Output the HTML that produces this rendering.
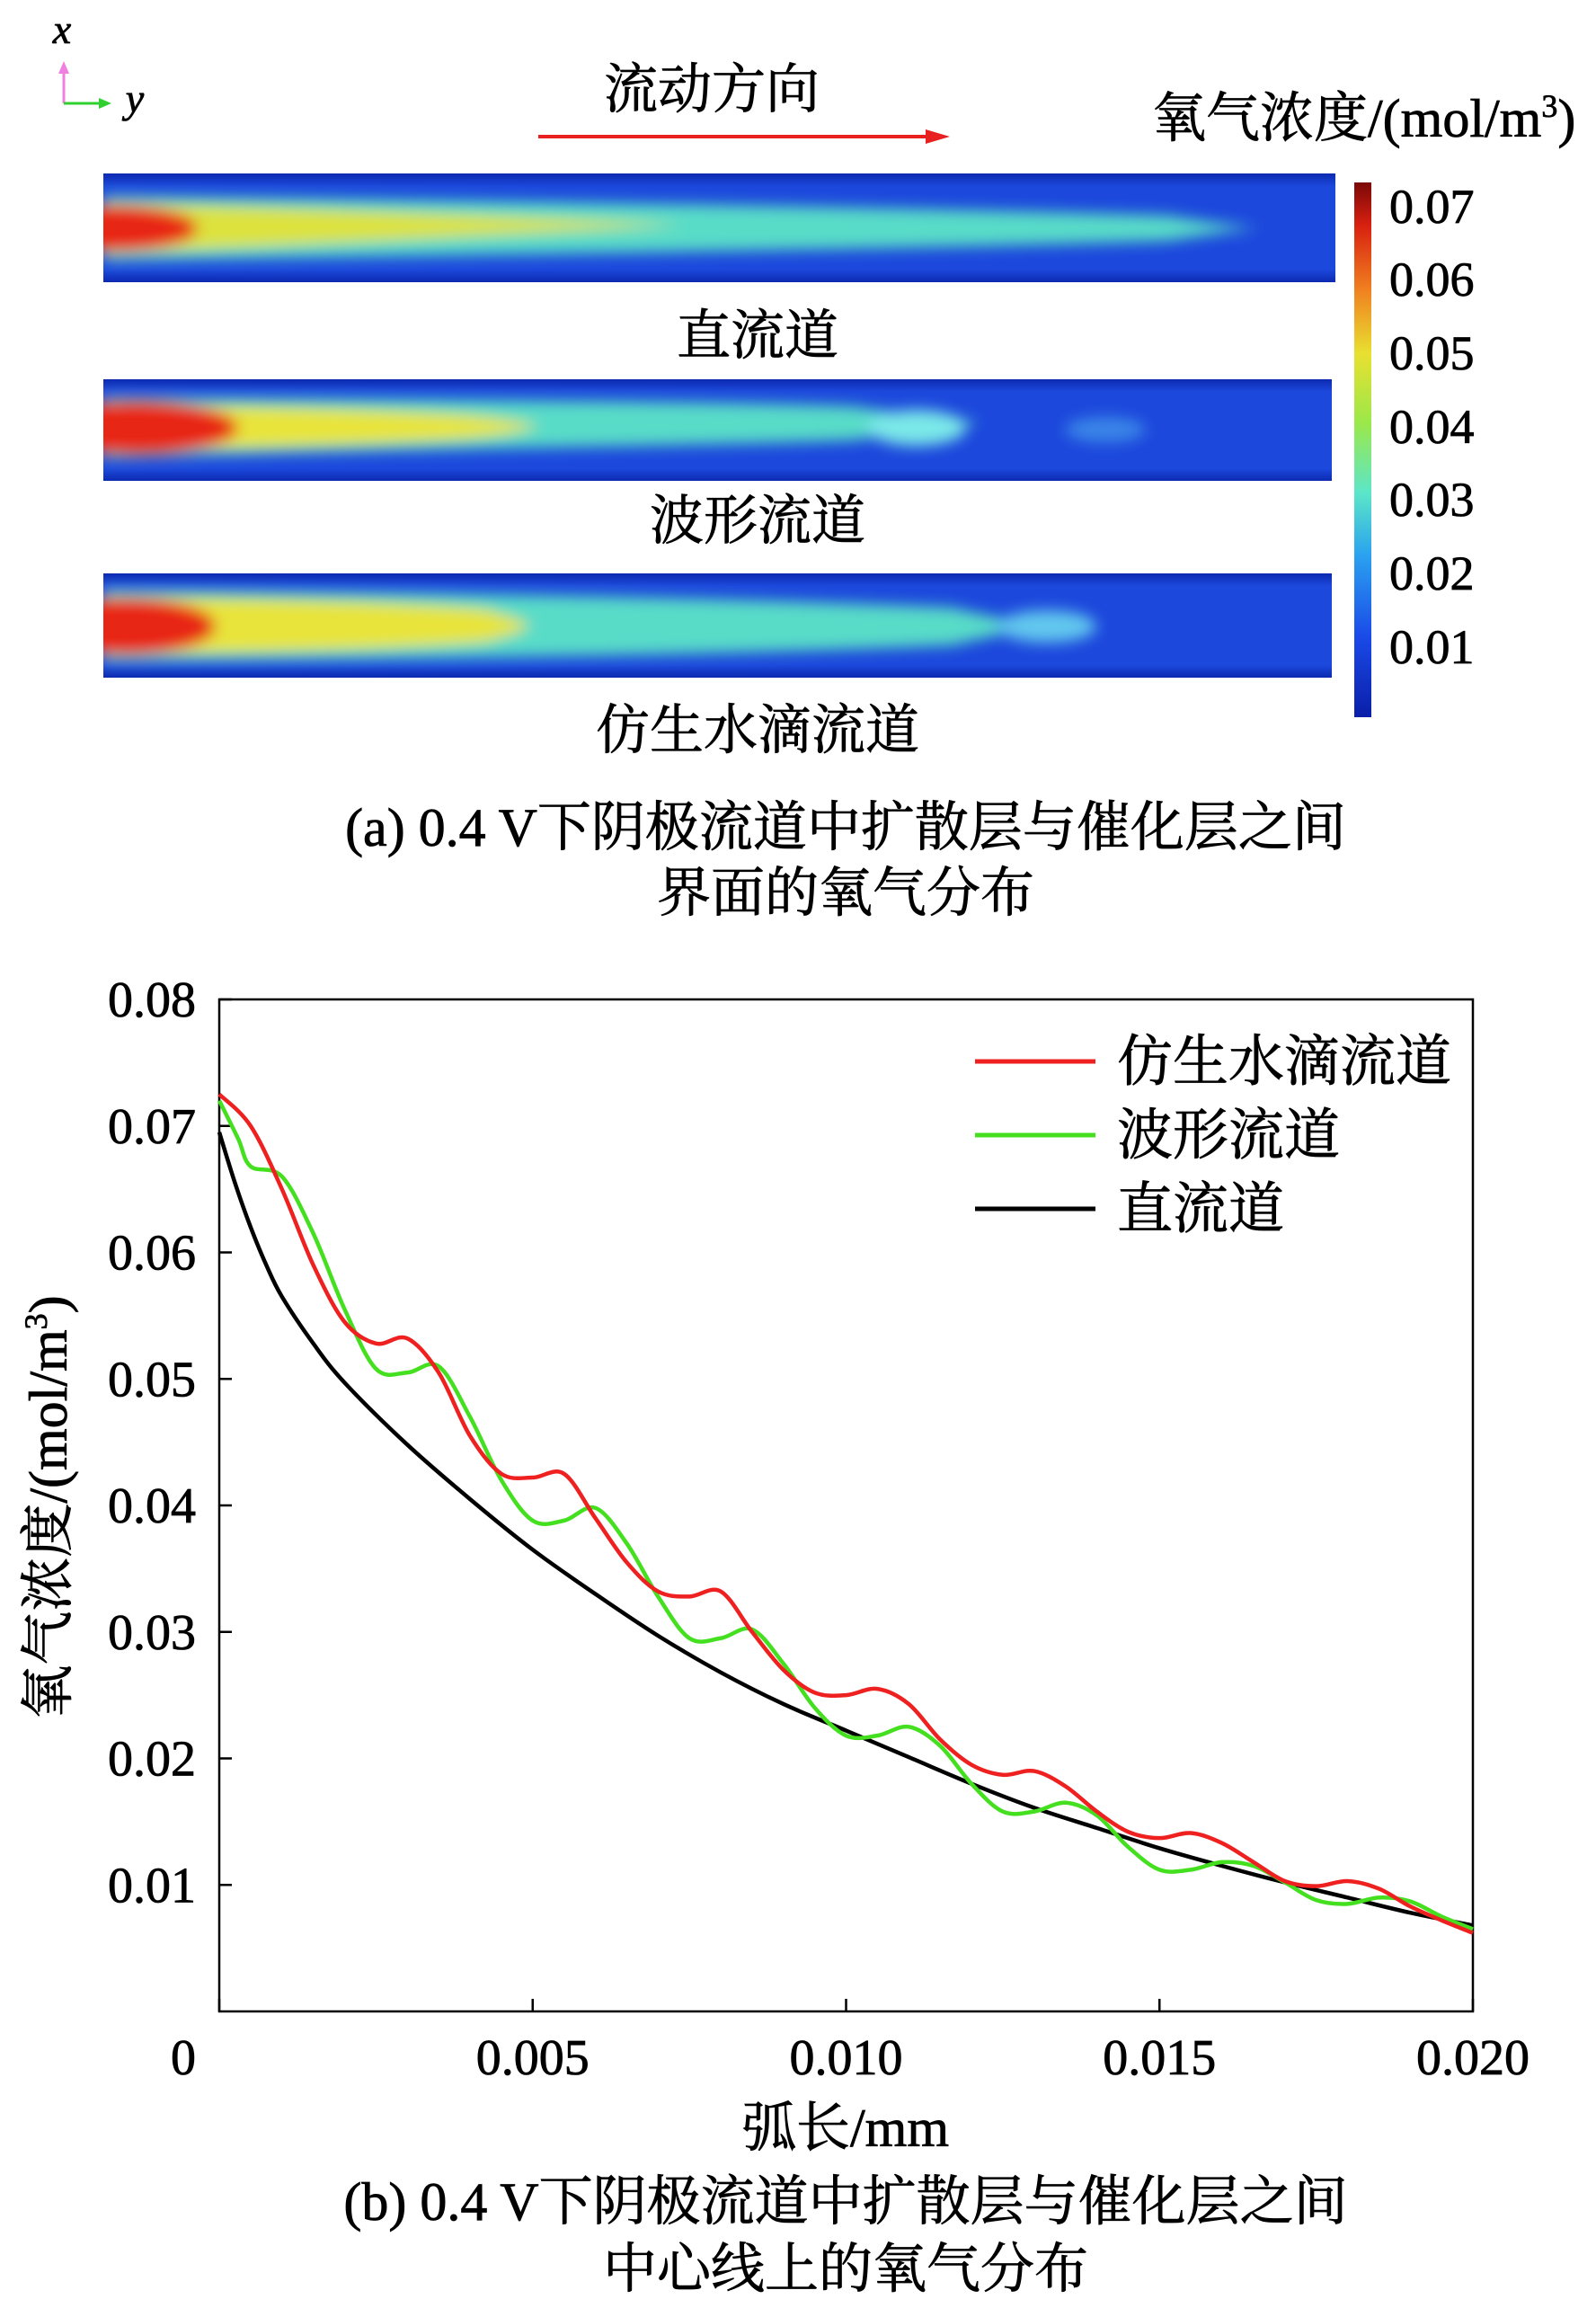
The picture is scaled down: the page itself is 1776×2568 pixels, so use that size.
<!DOCTYPE html>
<html><head><meta charset="utf-8"><style>
html,body{margin:0;padding:0;background:#fff;}
body{width:1776px;height:2568px;overflow:hidden;position:relative;font-family:"Liberation Serif","Noto Serif CJK SC",serif;}
svg{position:absolute;left:0;top:0;}
text{stroke:#000;stroke-width:0.8;}
</style></head><body>
<svg width="1776" height="2568" viewBox="0 0 1776 2568">
<defs>
<filter id="blur" x="-10%" y="-50%" width="120%" height="200%"><feGaussianBlur stdDeviation="8"/></filter>
<linearGradient id="cbar" x1="0" y1="1" x2="0" y2="0">
<stop offset="0" stop-color="#0a1ea8"/><stop offset="0.15" stop-color="#1a4ae8"/><stop offset="0.3" stop-color="#2aa0f0"/>
<stop offset="0.42" stop-color="#5ce6c8"/><stop offset="0.55" stop-color="#9be84a"/><stop offset="0.68" stop-color="#e8e030"/>
<stop offset="0.8" stop-color="#f08020"/><stop offset="0.92" stop-color="#d82010"/><stop offset="1" stop-color="#7a0808"/>
</linearGradient>
<linearGradient id="edge" x1="0" y1="0" x2="0" y2="1">
<stop offset="0" stop-color="#0c2ab0"/><stop offset="0.12" stop-color="#1c48dc"/><stop offset="0.88" stop-color="#1c48dc"/><stop offset="1" stop-color="#0c2ab0"/>
</linearGradient>
<clipPath id="c1"><rect x="115" y="193" width="1371" height="121"/></clipPath>
<clipPath id="c2"><rect x="115" y="422" width="1367" height="113"/></clipPath>
<clipPath id="c3"><rect x="115" y="638" width="1367" height="116"/></clipPath>
</defs>

<g>
<line x1="71" y1="115" x2="71" y2="78" stroke="#f080e0" stroke-width="3"/>
<polygon points="71,68 65,82 77,82" fill="#f080e0"/>
<line x1="71" y1="115" x2="112" y2="115" stroke="#30d030" stroke-width="3"/>
<polygon points="124,115 110,109 110,121" fill="#30d030"/>
<text x="69" y="48" font-size="46" font-style="italic" text-anchor="middle">x</text>
<text x="150" y="125" font-size="46" font-style="italic" text-anchor="middle">y</text>
</g>
<text x="792" y="120" font-size="60" text-anchor="middle">流动方向</text>
<g>
<line x1="599" y1="152" x2="1035" y2="152" stroke="#e82020" stroke-width="4"/>
<polygon points="1057,152 1030,144 1030,160" fill="#e82020"/>
</g>
<text x="1282" y="152" font-size="60">氧气浓度/(mol/m<tspan font-size="36" dy="-22">3</tspan><tspan dy="22">)</tspan></text>

<g clip-path="url(#c1)">
<rect x="115" y="193" width="1371" height="121" fill="url(#edge)"/>
<g filter="url(#blur)">
<path d="M115,218 C500,222 1000,230 1300,240 C1350,248 1380,252 1400,254 C1380,256 1350,260 1300,268 C1000,278 500,284 115,290Z" fill="#58dcc8"/>
<path d="M115,226 C300,230 550,240 760,250 C550,262 300,274 115,282Z" fill="#dde23c"/>
<ellipse cx="125" cy="254" rx="95" ry="26" fill="#e82812"/>
</g>
</g>
<text x="843" y="394" font-size="60" text-anchor="middle">直流道</text>

<g clip-path="url(#c2)">
<rect x="115" y="422" width="1367" height="113" fill="url(#edge)"/>
<g filter="url(#blur)">
<path d="M115,442 C400,444 800,446 950,452 C1000,460 1050,462 1090,470 C1050,478 1000,482 950,490 C800,496 400,500 115,510Z" fill="#58dcc8"/>
<ellipse cx="1020" cy="476" rx="55" ry="20" fill="#7ae8e8"/>
<ellipse cx="1230" cy="478" rx="45" ry="14" fill="#3a86e8"/>
<path d="M115,450 C300,452 430,456 520,462 C560,466 580,470 600,474 C580,480 560,484 520,488 C430,494 300,498 115,502Z" fill="#e8e43a"/>
<ellipse cx="150" cy="476" rx="115" ry="30" fill="#e82812"/>
</g>
</g>
<text x="843" y="600" font-size="60" text-anchor="middle">波形流道</text>

<g clip-path="url(#c3)">
<rect x="115" y="638" width="1367" height="116" fill="url(#edge)"/>
<g filter="url(#blur)">
<path d="M115,656 C400,658 800,664 1060,676 C1100,686 1130,690 1150,696 C1130,704 1100,708 1060,718 C800,730 400,734 115,736Z" fill="#58dcc8"/>
<ellipse cx="1165" cy="697" rx="55" ry="18" fill="#62c8ee"/>
<path d="M115,664 C300,666 450,670 540,678 C570,688 580,690 590,696 C580,702 570,706 540,714 C450,722 300,726 115,728Z" fill="#e8e43a"/>
<ellipse cx="140" cy="697" rx="100" ry="32" fill="#e82812"/>
</g>
</g>
<text x="843" y="833" font-size="60" text-anchor="middle">仿生水滴流道</text>

<g>
<rect x="1507" y="203" width="19" height="595" fill="url(#cbar)"/>
<g font-size="54" fill="#000">
<text x="1546" y="248">0.07</text><text x="1546" y="329">0.06</text><text x="1546" y="411">0.05</text>
<text x="1546" y="493">0.04</text><text x="1546" y="574">0.03</text><text x="1546" y="656">0.02</text><text x="1546" y="738">0.01</text>
</g>
</g>
<text x="941" y="941" font-size="60" text-anchor="middle">(a)  0.4 V下阴极流道中扩散层与催化层之间</text>
<text x="941" y="1014" font-size="60" text-anchor="middle">界面的氧气分布</text>

<g id="chart"></g>
<text x="941" y="2388" font-size="60" text-anchor="middle">弧长/mm</text>
<text transform="translate(74,1677) rotate(-90)" font-size="60" text-anchor="middle">氧气浓度/(mol/m<tspan font-size="36" dy="-22">3</tspan><tspan dy="22">)</tspan></text>
<text x="941" y="2470" font-size="60" text-anchor="middle">(b)  0.4 V下阴极流道中扩散层与催化层之间</text>
<text x="941" y="2545" font-size="60" text-anchor="middle">中心线上的氧气分布</text>
</svg>
<script>
const xTicks=[0,0.005,0.010,0.015,0.020];
const xTickLabels=["0","0.005","0.010","0.015","0.020"];
const yTicks=[0.01,0.02,0.03,0.04,0.05,0.06,0.07,0.08];
const yTickLabels=["0.01","0.02","0.03","0.04","0.05","0.06","0.07","0.08"];
const seriesNames=["仿生水滴流道","波形流道","直流道"];
const seriesColors=["#ee2020","#44e020","#000000"];
const redX=[0,0.0005,0.001,0.0015,0.002,0.0025,0.003,0.0035,0.004,0.0045,0.005,0.0055,0.006,0.0065,0.007,0.0075,0.008,0.0085,0.009,0.0095,0.010,0.0105,0.011,0.0115,0.012,0.0125,0.013,0.0135,0.014,0.0145,0.015,0.0155,0.016,0.0165,0.017,0.0175,0.018,0.0185,0.019,0.0195,0.020];
const redY=[0.0725,0.070,0.065,0.059,0.0545,0.0528,0.0532,0.0505,0.0455,0.0425,0.0422,0.0425,0.039,0.0355,0.0332,0.0328,0.0332,0.030,0.027,0.0252,0.025,0.0255,0.0243,0.0215,0.0195,0.0187,0.019,0.0178,0.0158,0.0142,0.0137,0.0141,0.0133,0.0118,0.0103,0.0099,0.0103,0.0097,0.0083,0.0072,0.0062];
const greenX=[0,0.0003,0.0005,0.001,0.0015,0.002,0.0025,0.003,0.0035,0.004,0.0045,0.005,0.0055,0.006,0.0065,0.007,0.0075,0.008,0.0085,0.009,0.0095,0.010,0.0105,0.011,0.0115,0.012,0.0125,0.013,0.0135,0.014,0.0145,0.015,0.0155,0.016,0.0165,0.017,0.0175,0.018,0.0185,0.019,0.0195,0.020];
const greenY=[0.072,0.069,0.0668,0.066,0.0615,0.0555,0.0508,0.0505,0.051,0.047,0.042,0.0388,0.0388,0.0398,0.037,0.0328,0.0295,0.0295,0.0302,0.0275,0.024,0.0218,0.0218,0.0225,0.021,0.018,0.0158,0.0158,0.0165,0.0155,0.013,0.0112,0.0112,0.0118,0.0115,0.0102,0.0088,0.0085,0.009,0.0087,0.0075,0.0065];
const blackX=[0,0.00025,0.0005,0.00075,0.001,0.0015,0.002,0.003,0.004,0.005,0.006,0.007,0.008,0.009,0.010,0.011,0.012,0.013,0.014,0.015,0.016,0.017,0.018,0.019,0.020];
const blackY=[0.0695,0.0655,0.062,0.059,0.0565,0.0528,0.0497,0.0448,0.0405,0.0365,0.033,0.0297,0.0268,0.0243,0.0222,0.0201,0.018,0.0161,0.0145,0.0129,0.0115,0.0102,0.009,0.0078,0.0068];

const L=244,R=1639,T=1112,B=2238;
const xs=v=>L+(v-0)/(0.02-0)*(R-L);
const ys=v=>B-(v-0)/(0.08-0)*(B-T);
const NS="http://www.w3.org/2000/svg";
const g=document.getElementById('chart');
function mk(tag,attrs){const e=document.createElementNS(NS,tag);for(const k in attrs)e.setAttribute(k,attrs[k]);g.appendChild(e);return e;}
function smooth(X,Y){const p=X.map((x,i)=>[xs(x),ys(Y[i])]);let d=`M${p[0][0]},${p[0][1]}`;
for(let i=0;i<p.length-1;i++){const p0=p[Math.max(0,i-1)],p1=p[i],p2=p[i+1],p3=p[Math.min(p.length-1,i+2)];
d+=` C${p1[0]+(p2[0]-p0[0])/6},${p1[1]+(p2[1]-p0[1])/6} ${p2[0]-(p3[0]-p1[0])/6},${p2[1]-(p3[1]-p1[1])/6} ${p2[0]},${p2[1]}`;}return d;}

let frame=mk('rect',{x:L,y:T,width:R-L,height:B-T,fill:'none',stroke:'#000','stroke-width':2.5});


xTicks.forEach((v,i)=>{
 let t=mk('line',{x1:xs(v),y1:B,x2:xs(v),y2:B-14,stroke:'#000','stroke-width':2.5});
 
 
 let lb=mk('text',{x:i===0?xs(v)-40:xs(v),y:2308,'font-size':56,'text-anchor':'middle'});
 lb.textContent=xTickLabels[i];
 
 
});
yTicks.forEach((v,i)=>{
 let t=mk('line',{x1:L,y1:ys(v),x2:L+14,y2:ys(v),stroke:'#000','stroke-width':2.5});
 
 
 let lb=mk('text',{x:218,y:ys(v)+19,'font-size':56,'text-anchor':'end'});
 lb.textContent=yTickLabels[i];
 
 
});
const all=[[redX,redY],[greenX,greenY],[blackX,blackY]];
const lineNames=['red-droplet-line','green-wavy-line','black-straight-line'];
[2,1,0].forEach(i=>{
 let p=mk('path',{d:smooth(all[i][0],all[i][1]),fill:'none',stroke:seriesColors[i],'stroke-width':4.5});
 
 
});
seriesNames.forEach((n,i)=>{
 const y=1181+i*82;
 let l=mk('line',{x1:1085,y1:y,x2:1219,y2:y,stroke:seriesColors[i],'stroke-width':5});
 
 
 let t=mk('text',{x:1243,y:y+21,'font-size':62});
 t.textContent=n;
 
 
});
</script>
</body></html>
